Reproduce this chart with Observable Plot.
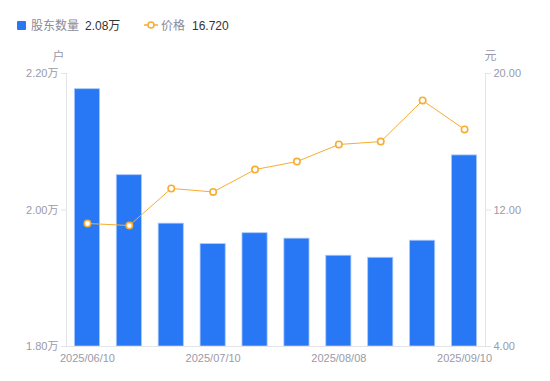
<!DOCTYPE html>
<html><head><meta charset="utf-8">
<script src="https://cdn.jsdelivr.net/npm/d3@7"></script>
<script src="https://cdn.jsdelivr.net/npm/@observablehq/plot@0.6"></script>
<style>
body{margin:0;background:#fff;font-family:"Liberation Sans","Noto Sans CJK SC",sans-serif;}
#wrap{position:relative;width:550px;height:381px;}
#legend{position:absolute;top:2px;left:0;width:550px;height:38px;font-size:12px;}
#legend span{position:absolute;top:17px;line-height:14px;white-space:nowrap;}
.lab{color:#8a8a99;}
.val{color:#333;}
#chart{position:absolute;top:40px;left:0;}
</style></head>
<body>
<div id="wrap">
  <div id="legend">
    <span style="left:17px;top:19px;width:9px;height:9px;background:#2878f5;border-radius:1px;"></span>
    <span class="lab" style="left:31px;">股东数量</span>
    <span class="val" style="left:85px;">2.08万</span>
    <svg style="position:absolute;left:144px;top:18px;" width="14" height="10"><line x1="0" y1="5" x2="14" y2="5" stroke="#f6ad33" stroke-width="1.5"/><circle cx="7" cy="5" r="3" fill="#fff" stroke="#f6ad33" stroke-width="1.5"/></svg>
    <span class="lab" style="left:161px;">价格</span>
    <span class="val" style="left:192px;">16.720</span>
  </div>
  <div id="chart"></div>
</div>
<script>
const dates = ["2025/06/10","2025/06/20","2025/06/30","2025/07/10","2025/07/20","2025/07/31","2025/08/08","2025/08/20","2025/08/31","2025/09/10"];
const holders = [2.177,2.051,1.980,1.950,1.966,1.958,1.933,1.930,1.955,2.080]; // 万户
const prices = [11.21,11.09,13.26,13.06,14.37,14.84,15.84,16.01,18.42,16.72]; // 元
const holderTicks = [1.8,2.0,2.2];
const priceTicks = [4,12,20];
const xTicks = ["2025/06/10","2025/07/10","2025/08/08","2025/09/10"];

const hMin = 1.8, hMax = 2.2, pMin = 4, pMax = 20;
const toY = p => hMin + (p - pMin) / (pMax - pMin) * (hMax - hMin);
const toP = y => pMin + (y - hMin) / (hMax - hMin) * (pMax - pMin);

const data = dates.map((d, i) => ({date: d, holders: holders[i], price: prices[i], py: toY(prices[i])}));

const axisColor = "#e3e3e8";
const textColor = "#9a9aa8";
const lineColor = "#f6ad33";

const chart = Plot.plot({
  width: 550,
  height: 341,
  marginTop: 33,
  marginBottom: 35,
  marginLeft: 66,
  marginRight: 65,
  style: {fontFamily: '"Liberation Sans","Noto Sans CJK SC",sans-serif', fontSize: "11px", color: textColor, background: "#fff"},
  x: {type: "band", domain: dates, paddingInner: 0.4, paddingOuter: 0.2, round: false},
  y: {domain: [hMin, hMax]},
  marks: [
    Plot.barY(data, {x: "date", y1: d => hMin, y2: "holders", fill: "#2878f5", stroke: "#a9c9fb", strokeWidth: 0.8}),
    Plot.ruleY([hMin], {stroke: axisColor}),
    Plot.frame({anchor: "left", stroke: axisColor}),
    Plot.frame({anchor: "right", stroke: axisColor}),
    Plot.line(data, {x: "date", y: "py", stroke: lineColor, strokeWidth: 1}),
    Plot.dot(data, {x: "date", y: "py", r: 3.2, fill: "#fff", stroke: lineColor, strokeWidth: 1.6}),
    Plot.axisY(holderTicks, {anchor: "left", label: null, tickSize: 5, tickPadding: 3, stroke: axisColor, fill: textColor, tickFormat: v => v.toFixed(2) + "万"}),
    Plot.axisY(priceTicks.map(toY), {anchor: "right", label: null, tickSize: 5, tickPadding: 3, stroke: axisColor, fill: textColor, tickFormat: v => toP(v).toFixed(2)}),
    Plot.axisX(xTicks, {anchor: "bottom", label: null, tickSize: 0, tickPadding: 8, fill: textColor}),
    Plot.text(["户"], {frameAnchor: "top-left", dx: -14, dy: -21, fill: textColor, fontSize: 12}),
    Plot.text(["元"], {frameAnchor: "top-right", dx: 11, dy: -22, fill: textColor, fontSize: 12})
  ]
});
document.getElementById("chart").appendChild(chart);
</script>
</body></html>
